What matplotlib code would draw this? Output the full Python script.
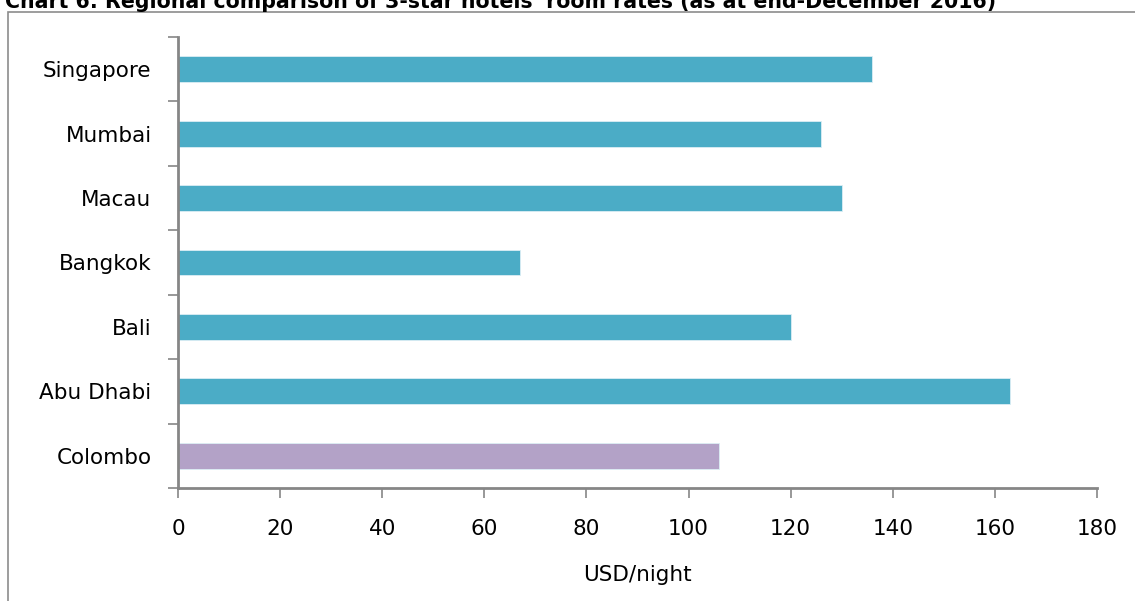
import matplotlib
matplotlib.use("Agg")
import matplotlib.pyplot as plt
from matplotlib.patches import Rectangle

cities = ["Colombo", "Abu Dhabi", "Bali", "Bangkok", "Macau", "Mumbai", "Singapore"]
rates = [106, 163, 120, 67, 130, 126, 136]
bar_colors = ["#B3A2C7", "#4BACC6", "#4BACC6", "#4BACC6", "#4BACC6", "#4BACC6", "#4BACC6"]
x_ticks = [0, 20, 40, 60, 80, 100, 120, 140, 160, 180]

title = "Chart 6: Regional comparison of 3-star hotels' room rates (as at end-December 2016)"
x_label = "USD/night"

W, H = 1135, 601
fig = plt.figure(figsize=(W / 100, H / 100), dpi=100)
plt.rcParams["font.family"] = ["DejaVu Sans"]

# outer frame around the chart area
fig.patches.append(Rectangle((7.5 / W, -0.01), 1.2, 1 - 12 / H + 0.01,
                             transform=fig.transFigure, fill=False,
                             edgecolor="#8C8C8C", linewidth=1.2))

# title, partly above the top edge
fig.text(5 / W, 1 - 8 / H, title, fontsize=14.8, fontweight="bold",
         ha="left", va="baseline", color="#000000")

ax = fig.add_axes([178 / W, 1 - 488 / H, (1097 - 178) / W, (488 - 37) / H])
y = range(len(cities))
ax.barh(y, rates, height=0.4, color=bar_colors, edgecolor="#DCEEF4", linewidth=0.6)

ax.set_xlim(0, 180)
ax.set_ylim(-0.5, len(cities) - 0.5)
ax.set_xticks(x_ticks)
ax.set_xticklabels([str(t) for t in x_ticks])
ax.set_yticks([i - 0.5 for i in range(len(cities) + 1)])
ax.set_yticklabels([])
ax.set_yticks(list(y), minor=True)
ax.set_yticklabels(cities, minor=True)

for s in ["top", "right"]:
    ax.spines[s].set_visible(False)
for s in ["left", "bottom"]:
    ax.spines[s].set_color("#868686")
    ax.spines[s].set_linewidth(2)

ax.tick_params(axis="y", which="major", length=7, width=1.2, color="#868686", direction="out")
ax.tick_params(axis="y", which="minor", length=0, pad=19, labelsize=15.5)
ax.tick_params(axis="x", which="major", length=7, width=1.2, color="#868686",
               direction="out", labelsize=15.5, pad=15)

ax.set_xlabel(x_label, fontsize=15.5, labelpad=19)

fig.savefig("out.png", dpi=100)
